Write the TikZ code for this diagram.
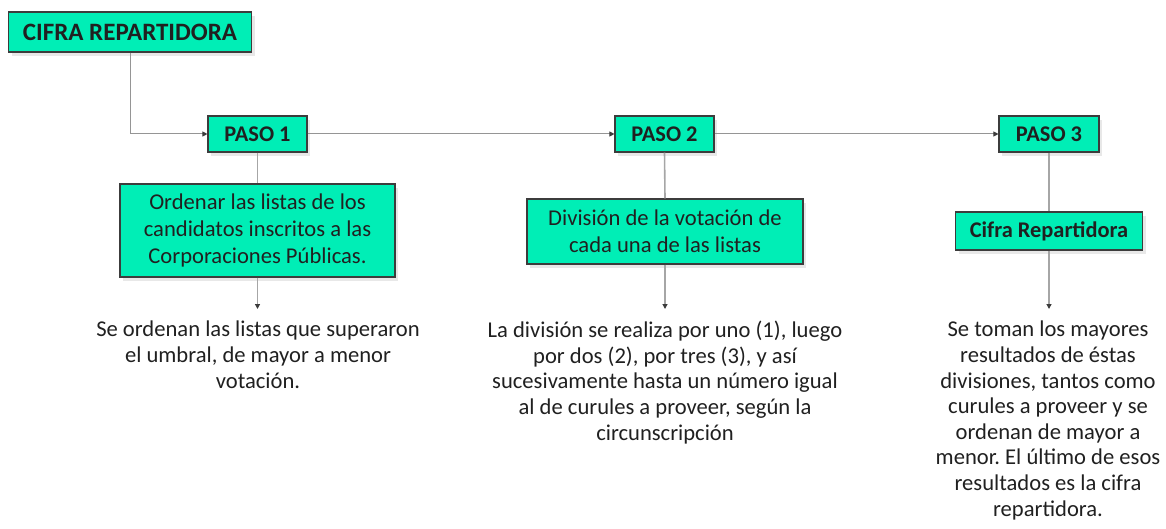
\documentclass[tikz,border=0pt]{standalone}
\usepackage{fontspec}
\setmainfont{Carlito}
\frenchspacing
\usetikzlibrary{arrows.meta,shadows,positioning}
\definecolor{boxfill}{HTML}{00EEB6}
\definecolor{boxline}{HTML}{3C3C3C}
\definecolor{conn}{HTML}{A6A6A6}
\definecolor{txt}{HTML}{202020}
\tikzset{
  greenbox/.style={draw=boxline, line width=1.1pt, fill=boxfill, inner sep=0pt,
    drop shadow={opacity=0.18, shadow xshift=3pt, shadow yshift=-4pt},
    text=txt, align=center},
  conline/.style={draw=conn, line width=1.6pt},
  conarrow/.style={draw=conn, line width=1.6pt, -{Triangle[length=5pt,width=5pt,color=boxline]}},
  hconarrow/.style={draw=conn!90!black, line width=1pt, -{Triangle[length=5pt,width=5pt,color=boxline]}},
  desc/.style={text=txt, align=center, inner sep=0pt, font=\fontsize{22.6}{25.6}\selectfont},
  boxtext/.style={font=\fontsize{22.6}{27}\selectfont},
  boldtext/.style={font=\bfseries\fontsize{22.4}{24}\selectfont}
}
\begin{document}
\begin{tikzpicture}[x=1pt,y=-1pt]
\useasboundingbox (0,0) rectangle (1166,529);
\node[greenbox, minimum width=243pt, minimum height=40pt, font=\bfseries\fontsize{25}{28}\selectfont] (cifra) at (130,32) {CIFRA REPARTIDORA};
\node[greenbox, boldtext, minimum width=99pt, minimum height=36pt] (paso1) at (257.5,134) {PASO 1};
\node[greenbox, boldtext, minimum width=99pt, minimum height=36pt] (paso2) at (664.5,134) {PASO 2};
\node[greenbox, boldtext, minimum width=100pt, minimum height=36pt] (paso3) at (1049,134) {PASO 3};
\node[greenbox, boxtext, minimum width=275pt, minimum height=93pt] (box1) at (257.5,230.5) {Ordenar las listas de los\\candidatos inscritos a las\\Corporaciones Públicas.};
\node[greenbox, boxtext, minimum width=276pt, minimum height=65pt] (box2) at (665,231.5) {División de la votación de\\cada una de las listas};
\node[greenbox, boldtext, minimum width=187pt, minimum height=38pt] (box3) at (1049,231) {Cifra Repartidora};

\coordinate (e1) at (257.5,309);
\coordinate (e2) at (665,309);
\coordinate (e3) at (1049,309);

\node[desc, anchor=north] (t1) at (258,321) {Se ordenan las listas que superaron\\el umbral, de mayor a menor\\votación.};
\node[desc, anchor=north] (t2) at (665,321) {La división se realiza por uno (1), luego\\por dos (2), por tres (3), y así\\sucesivamente hasta un número igual\\al de curules a proveer, según la\\circunscripción};
\node[desc, anchor=north] (t3) at (1048,321) {Se toman los mayores\\resultados de éstas\\divisiones, tantos como\\curules a proveer y se\\ordenan de mayor a\\menor. El último de esos\\resultados es la cifra\\repartidora.};

\draw[hconarrow] (cifra.south) |- (paso1.west);
\draw[hconarrow] (paso1.east) -- (paso2.west);
\draw[hconarrow] (paso2.east) -- (paso3.west);
\draw[conline] (paso1.south) -- (box1.north);
\draw[conline] (paso2.south) -- (box2.north);
\draw[conline] (paso3.south) -- (box3.north);
\draw[conarrow] (box1.south) -- (e1);
\draw[conarrow] (box2.south) -- (e2);
\draw[conarrow] (box3.south) -- (e3);
\end{tikzpicture}
\end{document}
